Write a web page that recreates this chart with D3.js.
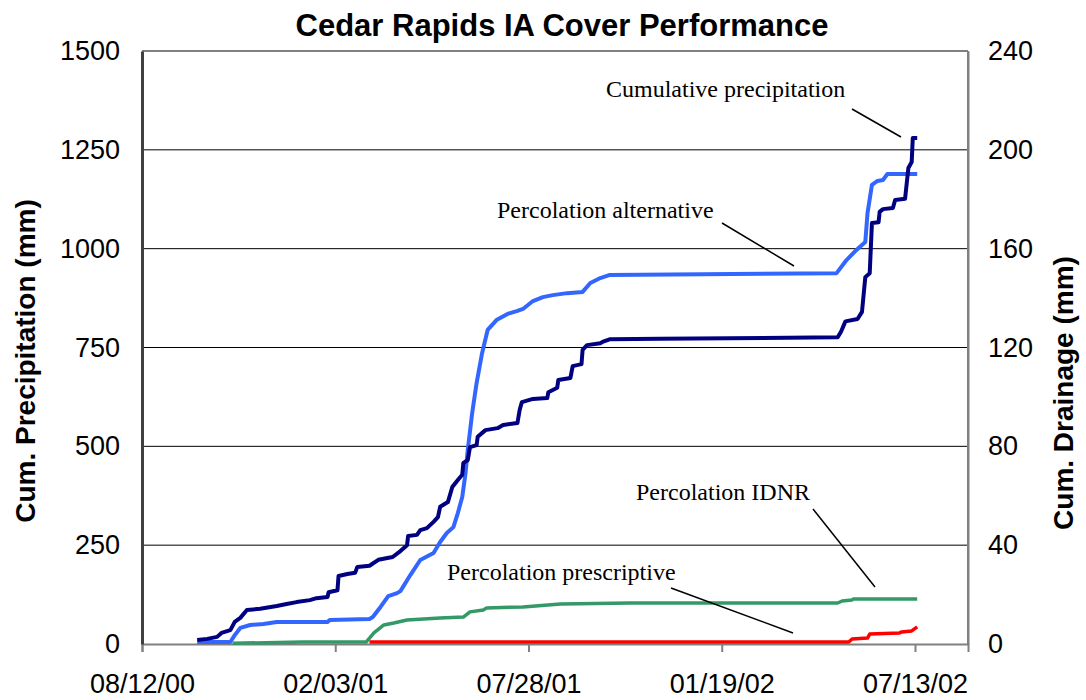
<!DOCTYPE html>
<html>
<head>
<meta charset="utf-8">
<script src="https://cdn.jsdelivr.net/npm/d3@7"></script>
<style>
  body { margin: 0; background: #fff; }
  .tick-label { font-family: "Liberation Sans", Arial, sans-serif; font-size: 27px; fill: #000; }
  .axisTitle { font-family: "Liberation Sans", Arial, sans-serif; font-size: 28px; font-weight: bold; fill: #000; }
  .title { font-family: "Liberation Sans", Arial, sans-serif; font-size: 31px; font-weight: bold; fill: #000; }
  .note { font-family: "Liberation Serif", "Times New Roman", serif; font-size: 24px; fill: #000; }
</style>
</head>
<body>
<div id="chart"></div>
<script>
// series: [date, value]
// cumulative precipitation (left axis, mm)
const cumPrecipitation = [
  ["10/01/00", 10], ["10/10/00", 13], ["10/19/00", 18], ["10/23/00", 28], ["10/31/00", 35],
  ["11/04/00", 56], ["11/09/00", 66], ["11/15/00", 86], ["11/27/00", 89], ["12/12/00", 96],
  ["12/21/00", 101], ["12/30/00", 106], ["01/11/01", 111], ["01/17/01", 116], ["01/27/01", 119],
  ["01/28/01", 131], ["02/05/01", 136], ["02/06/01", 172], ["02/14/01", 177], ["02/21/01", 180],
  ["02/23/01", 195], ["03/06/01", 198], ["03/14/01", 213], ["03/27/01", 220], ["04/03/01", 235],
  ["04/09/01", 250], ["04/10/01", 273], ["04/18/01", 276], ["04/21/01", 288], ["04/27/01", 293],
  ["05/03/01", 309], ["05/07/01", 321], ["05/09/01", 347], ["05/16/01", 359], ["05/20/01", 397],
  ["05/25/01", 415], ["05/29/01", 428], ["05/30/01", 458], ["06/03/01", 465], ["06/05/01", 498],
  ["06/11/01", 503], ["06/12/01", 524], ["06/19/01", 541], ["06/30/01", 546], ["07/05/01", 554],
  ["07/18/01", 559], ["07/20/01", 592], ["07/22/01", 612], ["08/01/01", 620], ["08/14/01", 622],
  ["08/15/01", 637], ["08/23/01", 648], ["08/24/01", 668], ["09/04/01", 673], ["09/06/01", 703],
  ["09/14/01", 708], ["09/15/01", 744], ["09/19/01", 756], ["10/01/01", 761], ["10/03/01", 764],
  ["10/10/01", 771], ["11/24/01", 772], ["05/04/02", 776], ["05/07/02", 790], ["05/11/02", 816],
  ["05/22/02", 822], ["05/26/02", 840], ["05/29/02", 928], ["06/02/02", 938], ["06/04/02", 1065],
  ["06/10/02", 1067], ["06/11/02", 1093], ["06/14/02", 1100], ["06/23/02", 1103], ["06/25/02", 1123],
  ["07/04/02", 1126], ["07/07/02", 1204], ["07/10/02", 1219], ["07/11/02", 1280], ["07/15/02", 1280]
];

// percolation, alternative cover (right axis, mm)
const percAlternative = [
  ["10/01/00", 0.8], ["10/31/00", 0.8], ["11/04/00", 3.6], ["11/09/00", 6.5], ["11/18/00", 7.7],
  ["11/30/00", 8.1], ["12/12/00", 8.9], ["12/24/00", 8.9], ["01/27/01", 8.9], ["01/29/01", 9.7],
  ["03/06/01", 10.1], ["03/09/01", 10.9], ["03/16/01", 15], ["03/23/01", 19.4], ["03/31/01", 20.6],
  ["04/03/01", 21.4], ["04/12/01", 27.9], ["04/21/01", 34], ["05/03/01", 36.8], ["05/09/01", 41.3],
  ["05/15/01", 44.9], ["05/21/01", 47.3], ["05/25/01", 53], ["05/29/01", 59.5], ["06/01/01", 69.2],
  ["06/03/01", 78.5], ["06/07/01", 93.5], ["06/11/01", 105.6], ["06/16/01", 117.8], ["06/21/01", 127.1],
  ["06/29/01", 131.1], ["07/09/01", 133.6], ["07/18/01", 134.8], ["07/23/01", 135.6], ["08/01/01", 138.8],
  ["08/10/01", 140.4], ["08/19/01", 141.2], ["09/01/01", 142], ["09/15/01", 142.5], ["09/22/01", 146.1],
  ["10/01/01", 148.1], ["10/09/01", 149.3], ["05/03/02", 150.1], ["05/12/02", 155.4], ["05/21/02", 159.5],
  ["05/29/02", 162.7], ["05/31/02", 174.4], ["06/04/02", 185.8], ["06/09/02", 187.4], ["06/14/02", 187.8],
  ["06/18/02", 190.2], ["07/15/02", 190.2]
];

// percolation, IDNR cover (right axis, mm)
const percIDNR = [
  ["11/02/00", 0.3], ["01/04/01", 0.8], ["03/03/01", 0.8], ["03/10/01", 4.5], ["03/19/01", 7.7],
  ["03/28/01", 8.5], ["04/09/01", 9.7], ["05/09/01", 10.5], ["05/30/01", 10.9], ["06/05/01", 13],
  ["06/17/01", 13.8], ["06/20/01", 14.6], ["07/23/01", 15], ["08/26/01", 16.2], ["10/28/01", 16.6],
  ["05/04/02", 16.6], ["05/08/02", 17.4], ["05/17/02", 17.8], ["05/18/02", 18.2], ["07/15/02", 18.2]
];

// percolation, prescriptive cover (right axis, mm)
const percPrescriptive = [
  ["03/06/01", 0.8], ["05/14/02", 0.8], ["05/17/02", 2], ["05/31/02", 2.4], ["06/02/02", 4],
  ["06/29/02", 4.5], ["07/01/02", 4.9], ["07/10/02", 5.3], ["07/15/02", 6.9]
];

const xTickLabels = ["08/12/00", "02/03/01", "07/28/01", "01/19/02", "07/13/02"];
const xRange = ["08/12/00", "08/30/02"];
const leftTicks = [0, 250, 500, 750, 1000, 1250, 1500];
const rightTicks = [0, 40, 80, 120, 160, 200, 240];

const margin = {top: 51, right: 118, bottom: 56, left: 142},
  width = 1086 - margin.left - margin.right,
  height = 700 - margin.top - margin.bottom;

const parseDate = d3.timeParse("%m/%d/%y");

var svg = d3.select("#chart")
  .append("svg")
  .attr("width", 1086)
  .attr("height", 700)
  .append("g")
  .attr("transform", "translate(" + margin.left + "," + margin.top + ")");

var xScale = d3.scaleTime()
  .domain(xRange.map(parseDate))
  .range([0, width]);

var yLeft = d3.scaleLinear()
  .domain([0, 1500])
  .range([height, 0]);

var yRight = d3.scaleLinear()
  .domain([0, 240])
  .range([height, 0]);

// gridlines
svg.selectAll(".grid")
  .data(leftTicks.filter((d) => d > 0 && d < 1500))
  .enter().append("line")
  .attr("class", "grid")
  .attr("x1", 0)
  .attr("x2", width)
  .attr("y1", (d) => yLeft(d))
  .attr("y2", (d) => yLeft(d))
  .attr("stroke", "#000")
  .attr("stroke-width", 1);

// plot frame: top and right in grey
svg.append("line")
  .attr("x1", 0).attr("x2", width)
  .attr("y1", yLeft(1500)).attr("y2", yLeft(1500))
  .attr("stroke", "#808080").attr("stroke-width", 2);

svg.append("line")
  .attr("x1", width).attr("x2", width)
  .attr("y1", 0).attr("y2", height)
  .attr("stroke", "#808080").attr("stroke-width", 2);

// x axis
var xAxis = d3.axisBottom(xScale)
  .tickValues(xTickLabels.map(parseDate))
  .tickFormat(d3.timeFormat("%m/%d/%y"))
  .tickSize(8)
  .tickPadding(22);

var gx = svg.append("g")
  .attr("id", "x-axis")
  .attr("transform", "translate(0," + height + ")")
  .call(xAxis);
gx.select(".domain").attr("stroke", "#808080").attr("stroke-width", 2);
gx.selectAll(".tick line").attr("stroke", "#808080").attr("stroke-width", 2);
gx.selectAll(".tick text").attr("class", "tick-label").attr("font-size", null).attr("font-family", null);

// left axis
var gl = svg.append("g")
  .attr("id", "y-axis")
  .call(d3.axisLeft(yLeft).tickValues(leftTicks).tickFormat(d3.format("d")).tickSize(0).tickPadding(22));
gl.select(".domain").attr("stroke", "#404040").attr("stroke-width", 3);
gl.selectAll(".tick text").attr("class", "tick-label").attr("font-size", null).attr("font-family", null);

// right axis
var gr = svg.append("g")
  .attr("id", "y-axis-right")
  .attr("transform", "translate(" + width + ",0)")
  .call(d3.axisRight(yRight).tickValues(rightTicks).tickSize(0).tickPadding(20));
gr.select(".domain").attr("stroke", "#808080").attr("stroke-width", 2);
gr.selectAll(".tick text").attr("class", "tick-label").attr("font-size", null).attr("font-family", null);

// series
const series = [
  {data: percIDNR, y: yRight, color: "#339966", w: 3.5},
  {data: percPrescriptive, y: yRight, color: "#ff0000", w: 3.5},
  {data: percAlternative, y: yRight, color: "#3366ff", w: 4},
  {data: cumPrecipitation, y: yLeft, color: "#000080", w: 4}
];

series.forEach((s) => {
  var line = d3.line()
    .x((d) => xScale(parseDate(d[0])))
    .y((d) => s.y(d[1]));
  svg.append("path")
    .datum(s.data)
    .attr("fill", "none")
    .attr("stroke", s.color)
    .attr("stroke-width", s.w)
    .attr("stroke-linejoin", "round")
    .attr("d", line);
});

// labels with leader lines (page coordinates)
const notes = [
  {text: "Cumulative precipitation", x: 606, y: 97, line: [852, 109, 901, 137]},
  {text: "Percolation alternative", x: 497, y: 218, line: [722, 223, 794, 266]},
  {text: "Percolation IDNR", x: 636, y: 500, line: [813, 509, 875, 587]},
  {text: "Percolation prescriptive", x: 447, y: 580, line: [671, 588, 793, 633]}
];

var page = d3.select("#chart svg");

notes.forEach((n) => {
  page.append("text")
    .attr("class", "note")
    .attr("x", n.x)
    .attr("y", n.y)
    .text(n.text);
  page.append("line")
    .attr("x1", n.line[0]).attr("y1", n.line[1])
    .attr("x2", n.line[2]).attr("y2", n.line[3])
    .attr("stroke", "#000")
    .attr("stroke-width", 1.5);
});

// titles
page.append("text")
  .attr("class", "title")
  .attr("x", 562)
  .attr("y", 36)
  .attr("text-anchor", "middle")
  .text("Cedar Rapids IA Cover Performance");

page.append("text")
  .attr("class", "axisTitle")
  .attr("transform", "translate(35,361) rotate(-90)")
  .attr("text-anchor", "middle")
  .text("Cum. Precipitation (mm)");

page.append("text")
  .attr("class", "axisTitle")
  .attr("transform", "translate(1073,393) rotate(-90)")
  .attr("text-anchor", "middle")
  .text("Cum. Drainage (mm)");
</script>
</body>
</html>
